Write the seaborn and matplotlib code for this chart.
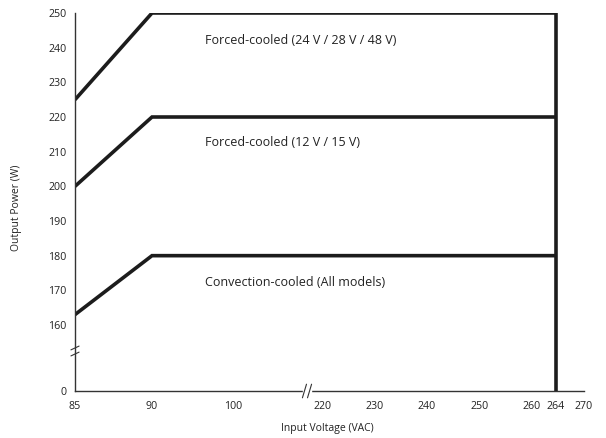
import numpy as np
import pandas as pd
import matplotlib
matplotlib.use("Agg")
import matplotlib.pyplot as plt
import seaborn as sns
from matplotlib.ticker import FixedLocator

sns.set_theme(style="white")
plt.rcParams['font.family'] = ['Open Sans', 'DejaVu Sans']

# ---- data ----
series_names = ["Forced-cooled (24 V / 28 V / 48 V)", "Forced-cooled (12 V / 15 V)", "Convection-cooled (All models)"]
top_v = [85, 90, 264, 264]
top_p = [225, 250, 250, 0]
mid_v = [85, 90, 264]
mid_p = [200, 220, 220]
low_v = [85, 90, 264]
low_p = [163, 180, 180]
x_ticks = [85, 90, 100, 220, 230, 240, 250, 260, 264, 270]
y_ticks = [0, 160, 170, 180, 190, 200, 210, 220, 230, 240, 250]

df = pd.concat([
    pd.DataFrame({"V": top_v, "P": top_p, "s": series_names[0]}),
    pd.DataFrame({"V": mid_v, "P": mid_p, "s": series_names[1]}),
    pd.DataFrame({"V": low_v, "P": low_p, "s": series_names[2]}),
], ignore_index=True)

# piecewise (broken) axis mappings
xk_d = np.array([85, 90, 100, 220, 260, 264, 270], float)
xk_m = np.array([0, 77, 158, 247, 457, 481, 509], float)
yk_d = np.array([0, 160, 250], float)
yk_m = np.array([0, 66, 378], float)

def xf(v): return np.interp(v, xk_d, xk_m)
def xi(v): return np.interp(v, xk_m, xk_d)
def yf(v): return np.interp(v, yk_d, yk_m)
def yi(v): return np.interp(v, yk_m, yk_d)

fig = plt.figure(figsize=(6.06, 4.38), dpi=100)
ax = fig.add_axes([75/606, 47/438, (584-75)/606, (391-13)/438])
ax.set_xscale('function', functions=(xf, xi))
ax.set_yscale('function', functions=(yf, yi))

sns.lineplot(data=df, x="V", y="P", units="s", estimator=None, sort=False,
             color="#1c1c1c", linewidth=2.6, ax=ax, legend=False,
             solid_joinstyle='miter', solid_capstyle='butt')

ax.set_xlim(85, 270)
ax.set_ylim(0, 250)
ax.xaxis.set_major_locator(FixedLocator(x_ticks))
ax.yaxis.set_major_locator(FixedLocator(y_ticks))
ax.xaxis.set_minor_locator(FixedLocator([]))
ax.yaxis.set_minor_locator(FixedLocator([]))
ax.set_xticklabels([str(t) for t in x_ticks])
ax.set_yticklabels([str(t) for t in y_ticks])

for side in ["top", "right"]:
    ax.spines[side].set_visible(False)
for side in ["left", "bottom"]:
    ax.spines[side].set_color("#333333")
    ax.spines[side].set_linewidth(1.0)
ax.tick_params(axis='both', direction='out', length=3, width=0.8, color="#333333",
               labelsize=7.7, labelcolor="#222222", pad=3)
ax.tick_params(axis='x', pad=4)

ax.set_xlabel("Input Voltage (VAC)", fontsize=7.5, color="#222222")
ax.set_ylabel("Output Power (W)", fontsize=7.5, color="#222222")
ax.xaxis.set_label_coords(0.495, -0.085)
ax.yaxis.set_label_coords(-0.104, 0.484)

# series annotations
ax.text(0.255, 0.927, series_names[0], transform=ax.transAxes, fontsize=9, color="#222222", va='center', ha='left')
ax.text(0.255, 0.657, series_names[1], transform=ax.transAxes, fontsize=9, color="#222222", va='center', ha='left')
ax.text(0.255, 0.286, series_names[2], transform=ax.transAxes, fontsize=9, color="#222222", va='center', ha='left')

# axis break marks
yb = 40/378
for dy in (-0.008, 0.008):
    ax.plot([-0.008, 0.008], [yb + dy - 0.005, yb + dy + 0.005], transform=ax.transAxes,
            color="#333333", lw=0.8, clip_on=False)
xb = 232/509
ax.add_patch(plt.Rectangle((xb - 0.008, -0.01), 0.016, 0.02, transform=ax.transAxes,
                           color="white", clip_on=False, zorder=5))
for dx in (-0.005, 0.005):
    ax.plot([xb + dx - 0.004, xb + dx + 0.004], [-0.018, 0.018], transform=ax.transAxes,
            color="#333333", lw=0.8, clip_on=False, zorder=6)

fig.savefig("out.png", dpi=100)
